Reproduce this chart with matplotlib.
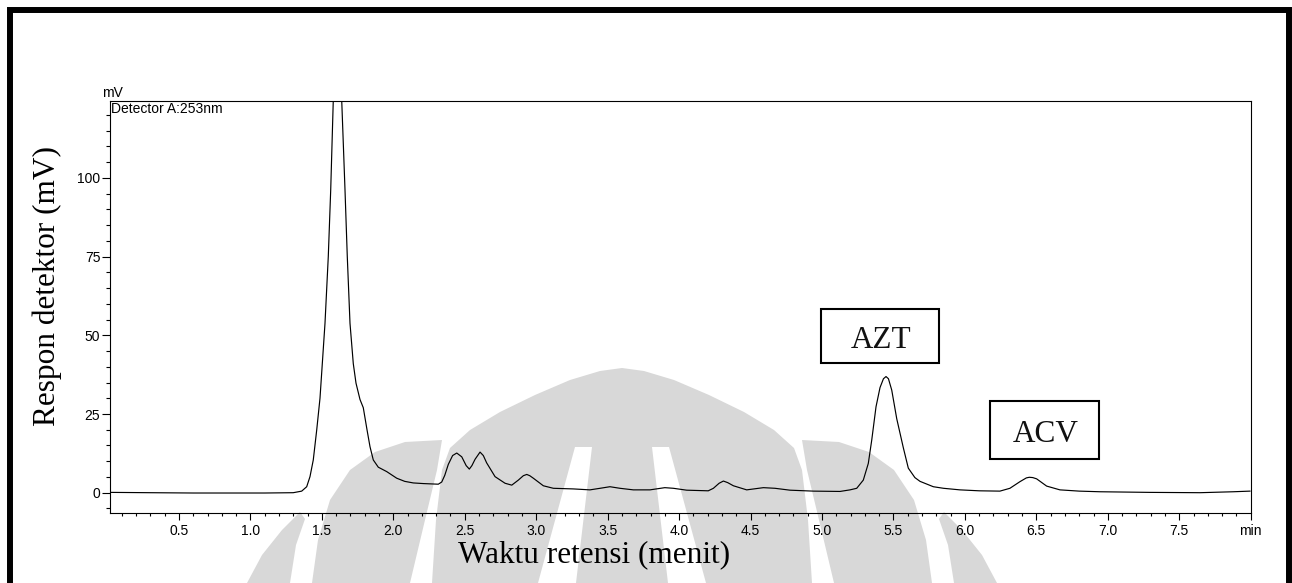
import matplotlib
matplotlib.use("Agg")
import matplotlib.pyplot as plt
from matplotlib.patches import Polygon, Rectangle
from matplotlib.ticker import MultipleLocator, FixedLocator
from matplotlib.transforms import ScaledTranslation

# ---------------------------------------------------------------- data
# retention time (min) and detector response (mV) of the recorded trace
time_min = [
    0.02, 0.30, 0.60, 0.90, 1.10, 1.30, 1.359, 1.394, 1.417, 1.44, 1.464,
    1.487, 1.522, 1.545, 1.562, 1.580, 1.607, 1.639, 1.662, 1.678, 1.697,
    1.720, 1.739, 1.767, 1.790, 1.816, 1.837, 1.860, 1.895, 1.954, 2.024,
    2.08, 2.14, 2.21, 2.315, 2.339, 2.36, 2.385, 2.415, 2.444, 2.479, 2.51,
    2.532, 2.55, 2.572, 2.607, 2.63, 2.653, 2.712, 2.782, 2.829, 2.875,
    2.91, 2.934, 2.955, 2.98, 3.05, 3.12, 3.26, 3.376, 3.447, 3.516, 3.586,
    3.68, 3.796, 3.90, 3.96, 4.053, 4.204, 4.24, 4.28, 4.31, 4.34, 4.38,
    4.473, 4.59, 4.671, 4.776, 4.94, 5.126, 5.196, 5.243, 5.289, 5.324,
    5.348, 5.378, 5.406, 5.43, 5.448, 5.465, 5.488, 5.523, 5.569, 5.604,
    5.65, 5.686, 5.779, 5.85, 5.965, 6.1, 6.245, 6.315, 6.385, 6.43, 6.451,
    6.475, 6.502, 6.572, 6.665, 6.8, 6.945, 7.295, 7.645, 7.878, 7.995,
]
response_mv = [
    0.1, 0.0, -0.1, -0.1, -0.1, 0.0, 0.5, 1.9, 5.1, 10.4, 19.9,
    30.0, 53.8, 75.0, 96.2, 124.7, 150.0, 124.7, 96.2, 75.0, 53.8,
    41.0, 34.8, 29.6, 27.0, 20.0, 14.6, 10.4, 8.1, 6.7, 4.6,
    3.6, 3.1, 2.9, 2.7, 3.4, 5.5, 9.0, 11.8, 12.6, 11.4, 8.6,
    7.5, 8.6, 10.6, 12.9, 11.8, 9.5, 5.1, 3.0, 2.4, 4.0,
    5.4, 5.8, 5.4, 4.6, 2.2, 1.4, 1.2, 0.9, 1.4, 1.9, 1.4,
    0.9, 0.9, 1.6, 1.4, 0.8, 0.6, 1.4, 3.0, 3.7, 3.2, 2.2,
    0.9, 1.6, 1.4, 0.8, 0.5, 0.4, 0.9, 1.4, 4.0, 9.3,
    16.7, 27.3, 33.4, 36.2, 36.9, 36.2, 32.6, 23.5, 14.3, 7.8,
    4.8, 3.6, 1.9, 1.4, 0.9, 0.6, 0.5, 1.4, 3.5, 4.7, 4.9,
    4.8, 4.4, 2.1, 0.9, 0.5, 0.3, 0.1, 0.0, 0.3, 0.5,
]

x_ticks = [0.5, 1.0, 1.5, 2.0, 2.5, 3.0, 3.5, 4.0, 4.5, 5.0, 5.5, 6.0,
           6.5, 7.0, 7.5, 8.0]
x_tick_labels = ["0.5", "1.0", "1.5", "2.0", "2.5", "3.0", "3.5", "4.0",
                 "4.5", "5.0", "5.5", "6.0", "6.5", "7.0", "7.5", "min"]
y_ticks = [0, 25, 50, 75, 100]
y_tick_labels = ["0", "25", "50", "75", "100"]

peak_names = ["AZT", "ACV"]

# ---------------------------------------------------------------- layout
W, H, DPI = 1292, 583, 100
SANS = ["Liberation Sans", "DejaVu Sans"]
SERIF = ["Liberation Serif", "DejaVu Serif"]

label_box_centre = [(5.408, 49.8), (6.558, 20.0)]   # (min, mV)
label_box_size_px = [(118, 54), (109, 58)]


def fig_xy(px, py):
    """Pixel position (origin top-left) -> figure fraction."""
    return (px / W, 1 - py / H)


fig = plt.figure(figsize=(W / DPI, H / DPI), dpi=DPI, facecolor="white")

# faint emblem printed behind the chart
emblem_grey = "#d8d8d8"
axis_mid = 622
left_arc = [(247, 583), (262, 555), (282, 530), (300, 512), (305, 519),
            (296, 545), (290, 583)]
left_wing = [(312, 583), (318, 540), (330, 500), (350, 470), (375, 452),
             (405, 442), (442, 440), (437, 470), (425, 520), (410, 583)]
dome_half = [(432, 583), (436, 520), (442, 470), (450, 448), (470, 430),
             (500, 412), (535, 395), (570, 380), (600, 371), (622, 368)]
left_slot = [(575, 447), (592, 447), (576, 583), (538, 583)]


def mirrored(pts):
    return [(2 * axis_mid - x, y) for x, y in pts]


dome = dome_half + mirrored(dome_half)[::-1]
grey_shapes = [left_arc, left_wing, mirrored(left_arc), mirrored(left_wing), dome]
white_shapes = [left_slot, mirrored(left_slot)]
for shape in grey_shapes:
    fig.add_artist(Polygon([fig_xy(x, y) for x, y in shape], closed=True,
                           transform=fig.transFigure, fc=emblem_grey,
                           ec="none", zorder=-5))
for shape in white_shapes:
    fig.add_artist(Polygon([fig_xy(x, y) for x, y in shape], closed=True,
                           transform=fig.transFigure, fc="white",
                           ec="none", zorder=-4))

# heavy frame around the page
fig.add_artist(Rectangle((10 / W, -0.05), (1288.5 - 10) / W,
                         1.05 - 10.5 / H, transform=fig.transFigure,
                         fill=False, ec="black", lw=4.3, zorder=10))

# ---------------------------------------------------------------- axes
ax_left, ax_right, ax_top, ax_bottom = 110, 1250.7, 100.5, 513
ax = fig.add_axes([ax_left / W, 1 - ax_bottom / H,
                   (ax_right - ax_left) / W, (ax_bottom - ax_top) / H])
ax.set_facecolor("none")

ax.plot(time_min, response_mv, color="black", lw=0.85, solid_joinstyle="round")

ax.set_xlim(0.0175, 8.0)
ax.set_ylim(-6.45, 124.6)

ax.xaxis.set_major_locator(FixedLocator(x_ticks))
ax.set_xticklabels(x_tick_labels)
ax.xaxis.set_minor_locator(MultipleLocator(0.1))
ax.yaxis.set_major_locator(FixedLocator(y_ticks))
ax.set_yticklabels(y_tick_labels)
ax.yaxis.set_minor_locator(MultipleLocator(5))

ax.tick_params(axis="x", which="major", direction="out", length=5,
               width=0.8, pad=3, labelsize=10)
ax.tick_params(axis="x", which="minor", direction="out", length=2.5,
               width=0.8)
ax.tick_params(axis="y", which="major", direction="out", length=6,
               width=0.8, pad=1, labelsize=10)
ax.tick_params(axis="y", which="minor", direction="out", length=3,
               width=0.8)
for lab in ax.get_xticklabels() + ax.get_yticklabels():
    lab.set_fontfamily(SANS)
for sp in ax.spines.values():
    sp.set_linewidth(0.8)
    sp.set_color("black")

# peak name boxes
for name, (t, v), (bw, bh) in zip(peak_names, label_box_centre,
                                  label_box_size_px):
    anchor = fig.dpi_scale_trans + ScaledTranslation(t, v, ax.transData)
    ax.add_artist(Rectangle((-bw / 2 / DPI, -bh / 2 / DPI), bw / DPI,
                            bh / DPI, transform=anchor, fill=False,
                            ec="black", lw=1.5, clip_on=False))
    ax.text(0.01, -12.5 / DPI, name, transform=anchor, ha="center",
            va="baseline", fontsize=22.5, family=SERIF, color="#111111")

# ---------------------------------------------------------------- texts
fig.text(*fig_xy(101.7, 97.3), "mV", ha="left", va="baseline",
         fontsize=10, family=SANS)
fig.text(*fig_xy(111, 113), "Detector A:253nm", ha="left", va="baseline",
         fontsize=10, family=SANS)
fig.text(*fig_xy(594, 562.7), "Waktu retensi (menit)", ha="center",
         va="baseline", fontsize=22.5, family=SERIF)
fig.text(*fig_xy(47, 286.5), "Respon detektor (mV)", ha="center",
         va="center", rotation=90, fontsize=22.5, family=SERIF)

fig.savefig("out.png", dpi=DPI, facecolor="white")
